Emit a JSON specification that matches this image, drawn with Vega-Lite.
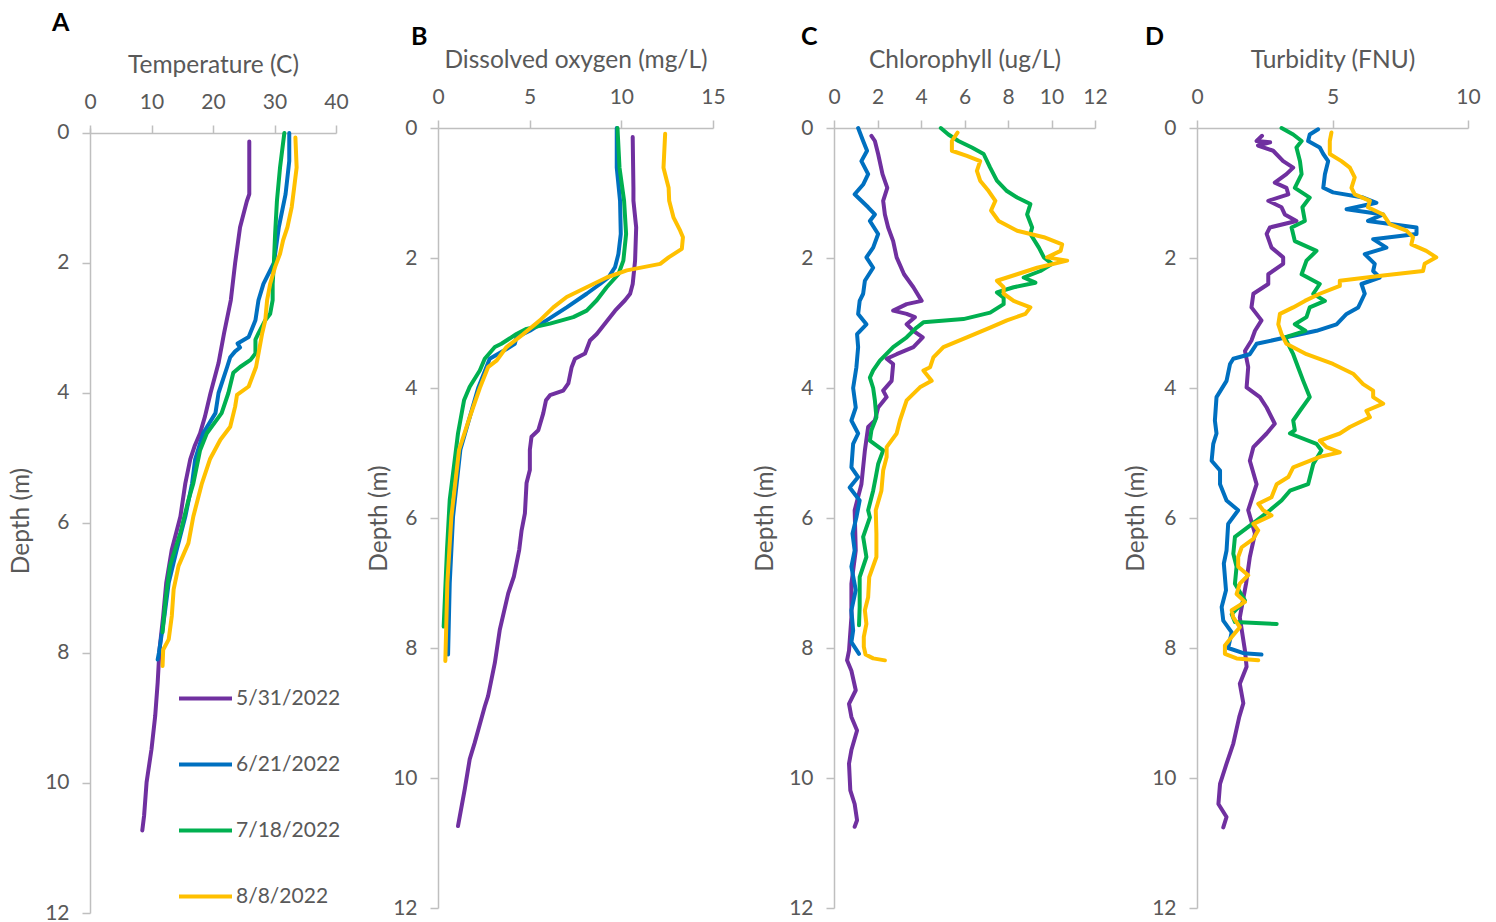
{
"$schema": "https://vega.github.io/schema/vega-lite/v6.json",
"background": "white",
"padding": {"left": 8, "top": 10, "right": 5, "bottom": 0},
"config": {
  "font": "Lato",
  "view": {"stroke": null},
  "axis": {"domainColor": "#bfbfbf", "domainWidth": 1.5, "tickColor": "#bfbfbf", "tickWidth": 1.5, "tickSize": 8, "labelColor": "#595959", "labelFontSize": 21, "titleColor": "#595959", "titleFontSize": 24.5, "titleFontWeight": "normal", "grid": false, "labelFont": "Lato", "titleFont": "Lato", "labelFlush": false, "labelOverlap": false},
  "axisX": {"labelPadding": 13, "titlePadding": 14},
  "axisY": {"labelPadding": 13},
  "line": {"strokeWidth": 4, "strokeCap": "round", "strokeJoin": "round"}
},
"datasets": {"prof": [
{"param":"T","date":"5/31/2022","depth":0.13,"value":25.9},
{"param":"T","date":"5/31/2022","depth":0.94,"value":25.9},
{"param":"T","date":"5/31/2022","depth":1.05,"value":25.5},
{"param":"T","date":"5/31/2022","depth":1.45,"value":24.4},
{"param":"T","date":"5/31/2022","depth":2.0,"value":23.6},
{"param":"T","date":"5/31/2022","depth":2.57,"value":22.9},
{"param":"T","date":"5/31/2022","depth":3.08,"value":21.8},
{"param":"T","date":"5/31/2022","depth":3.54,"value":20.9},
{"param":"T","date":"5/31/2022","depth":4.0,"value":19.6},
{"param":"T","date":"5/31/2022","depth":4.2,"value":19.1},
{"param":"T","date":"5/31/2022","depth":4.36,"value":18.7},
{"param":"T","date":"5/31/2022","depth":4.62,"value":17.9},
{"param":"T","date":"5/31/2022","depth":4.82,"value":17.0},
{"param":"T","date":"5/31/2022","depth":5.02,"value":16.3},
{"param":"T","date":"5/31/2022","depth":5.39,"value":15.5},
{"param":"T","date":"5/31/2022","depth":5.9,"value":14.7},
{"param":"T","date":"5/31/2022","depth":6.41,"value":13.3},
{"param":"T","date":"5/31/2022","depth":6.92,"value":12.4},
{"param":"T","date":"5/31/2022","depth":7.43,"value":11.9},
{"param":"T","date":"5/31/2022","depth":7.95,"value":11.3},
{"param":"T","date":"5/31/2022","depth":8.46,"value":11.0},
{"param":"T","date":"5/31/2022","depth":8.97,"value":10.6},
{"param":"T","date":"5/31/2022","depth":9.48,"value":10.0},
{"param":"T","date":"5/31/2022","depth":9.99,"value":9.2},
{"param":"T","date":"5/31/2022","depth":10.5,"value":8.8},
{"param":"T","date":"5/31/2022","depth":10.73,"value":8.5},
{"param":"T","date":"6/21/2022","depth":0.0,"value":32.4},
{"param":"T","date":"6/21/2022","depth":0.43,"value":32.4},
{"param":"T","date":"6/21/2022","depth":0.94,"value":31.8},
{"param":"T","date":"6/21/2022","depth":1.45,"value":30.7},
{"param":"T","date":"6/21/2022","depth":2.0,"value":29.9},
{"param":"T","date":"6/21/2022","depth":2.32,"value":28.2},
{"param":"T","date":"6/21/2022","depth":2.57,"value":27.4},
{"param":"T","date":"6/21/2022","depth":2.88,"value":26.9},
{"param":"T","date":"6/21/2022","depth":3.14,"value":25.8},
{"param":"T","date":"6/21/2022","depth":3.24,"value":24.0},
{"param":"T","date":"6/21/2022","depth":3.3,"value":24.4},
{"param":"T","date":"6/21/2022","depth":3.36,"value":23.6},
{"param":"T","date":"6/21/2022","depth":3.45,"value":22.8},
{"param":"T","date":"6/21/2022","depth":3.6,"value":22.3},
{"param":"T","date":"6/21/2022","depth":4.0,"value":20.9},
{"param":"T","date":"6/21/2022","depth":4.31,"value":20.4},
{"param":"T","date":"6/21/2022","depth":4.62,"value":18.4},
{"param":"T","date":"6/21/2022","depth":5.02,"value":17.1},
{"param":"T","date":"6/21/2022","depth":5.39,"value":16.6},
{"param":"T","date":"6/21/2022","depth":5.9,"value":15.5},
{"param":"T","date":"6/21/2022","depth":6.41,"value":14.1},
{"param":"T","date":"6/21/2022","depth":6.92,"value":12.8},
{"param":"T","date":"6/21/2022","depth":7.43,"value":12.1},
{"param":"T","date":"6/21/2022","depth":8.0,"value":11.2},
{"param":"T","date":"6/21/2022","depth":8.1,"value":11.0},
{"param":"T","date":"7/18/2022","depth":0.0,"value":31.6},
{"param":"T","date":"7/18/2022","depth":0.53,"value":30.9},
{"param":"T","date":"7/18/2022","depth":1.04,"value":30.4},
{"param":"T","date":"7/18/2022","depth":1.55,"value":30.1},
{"param":"T","date":"7/18/2022","depth":2.0,"value":29.9},
{"param":"T","date":"7/18/2022","depth":2.32,"value":29.7},
{"param":"T","date":"7/18/2022","depth":2.57,"value":29.7},
{"param":"T","date":"7/18/2022","depth":2.78,"value":29.3},
{"param":"T","date":"7/18/2022","depth":2.88,"value":28.5},
{"param":"T","date":"7/18/2022","depth":3.08,"value":27.4},
{"param":"T","date":"7/18/2022","depth":3.18,"value":26.9},
{"param":"T","date":"7/18/2022","depth":3.39,"value":26.9},
{"param":"T","date":"7/18/2022","depth":3.49,"value":26.1},
{"param":"T","date":"7/18/2022","depth":3.6,"value":24.4},
{"param":"T","date":"7/18/2022","depth":3.69,"value":23.3},
{"param":"T","date":"7/18/2022","depth":4.0,"value":22.5},
{"param":"T","date":"7/18/2022","depth":4.31,"value":21.4},
{"param":"T","date":"7/18/2022","depth":4.62,"value":19.0},
{"param":"T","date":"7/18/2022","depth":4.88,"value":17.9},
{"param":"T","date":"7/18/2022","depth":5.39,"value":16.8},
{"param":"T","date":"7/18/2022","depth":5.65,"value":16.0},
{"param":"T","date":"7/18/2022","depth":6.15,"value":14.7},
{"param":"T","date":"7/18/2022","depth":6.66,"value":13.0},
{"param":"T","date":"7/18/2022","depth":7.17,"value":12.3},
{"param":"T","date":"7/18/2022","depth":7.68,"value":11.8},
{"param":"T","date":"8/8/2022","depth":0.07,"value":33.4},
{"param":"T","date":"8/8/2022","depth":0.53,"value":33.6},
{"param":"T","date":"8/8/2022","depth":0.84,"value":33.2},
{"param":"T","date":"8/8/2022","depth":1.14,"value":32.8},
{"param":"T","date":"8/8/2022","depth":1.45,"value":32.1},
{"param":"T","date":"8/8/2022","depth":1.65,"value":31.4},
{"param":"T","date":"8/8/2022","depth":1.86,"value":30.9},
{"param":"T","date":"8/8/2022","depth":2.06,"value":30.1},
{"param":"T","date":"8/8/2022","depth":2.32,"value":29.3},
{"param":"T","date":"8/8/2022","depth":2.57,"value":28.8},
{"param":"T","date":"8/8/2022","depth":2.88,"value":28.5},
{"param":"T","date":"8/8/2022","depth":3.08,"value":28.0},
{"param":"T","date":"8/8/2022","depth":3.6,"value":27.0},
{"param":"T","date":"8/8/2022","depth":3.9,"value":25.8},
{"param":"T","date":"8/8/2022","depth":4.03,"value":23.9},
{"param":"T","date":"8/8/2022","depth":4.21,"value":23.6},
{"param":"T","date":"8/8/2022","depth":4.52,"value":22.8},
{"param":"T","date":"8/8/2022","depth":4.72,"value":21.2},
{"param":"T","date":"8/8/2022","depth":5.02,"value":19.5},
{"param":"T","date":"8/8/2022","depth":5.39,"value":18.2},
{"param":"T","date":"8/8/2022","depth":5.9,"value":16.8},
{"param":"T","date":"8/8/2022","depth":6.31,"value":16.0},
{"param":"T","date":"8/8/2022","depth":6.66,"value":14.4},
{"param":"T","date":"8/8/2022","depth":7.02,"value":13.6},
{"param":"T","date":"8/8/2022","depth":7.43,"value":13.3},
{"param":"T","date":"8/8/2022","depth":7.79,"value":12.8},
{"param":"T","date":"8/8/2022","depth":7.95,"value":11.9},
{"param":"T","date":"8/8/2022","depth":8.2,"value":11.8},
{"param":"DO","date":"5/31/2022","depth":0.14,"value":10.62},
{"param":"DO","date":"5/31/2022","depth":0.92,"value":10.66},
{"param":"DO","date":"5/31/2022","depth":1.12,"value":10.66},
{"param":"DO","date":"5/31/2022","depth":1.53,"value":10.81},
{"param":"DO","date":"5/31/2022","depth":2.04,"value":10.75},
{"param":"DO","date":"5/31/2022","depth":2.4,"value":10.62},
{"param":"DO","date":"5/31/2022","depth":2.55,"value":10.48},
{"param":"DO","date":"5/31/2022","depth":2.65,"value":10.2},
{"param":"DO","date":"5/31/2022","depth":2.81,"value":9.66},
{"param":"DO","date":"5/31/2022","depth":2.96,"value":9.24},
{"param":"DO","date":"5/31/2022","depth":3.17,"value":8.66},
{"param":"DO","date":"5/31/2022","depth":3.27,"value":8.29},
{"param":"DO","date":"5/31/2022","depth":3.47,"value":8.02},
{"param":"DO","date":"5/31/2022","depth":3.55,"value":7.47},
{"param":"DO","date":"5/31/2022","depth":3.68,"value":7.29},
{"param":"DO","date":"5/31/2022","depth":3.93,"value":7.11},
{"param":"DO","date":"5/31/2022","depth":4.04,"value":6.83},
{"param":"DO","date":"5/31/2022","depth":4.11,"value":6.11},
{"param":"DO","date":"5/31/2022","depth":4.19,"value":5.89},
{"param":"DO","date":"5/31/2022","depth":4.39,"value":5.74},
{"param":"DO","date":"5/31/2022","depth":4.65,"value":5.47},
{"param":"DO","date":"5/31/2022","depth":4.75,"value":5.1},
{"param":"DO","date":"5/31/2022","depth":4.95,"value":5.01},
{"param":"DO","date":"5/31/2022","depth":5.26,"value":5.01},
{"param":"DO","date":"5/31/2022","depth":5.46,"value":4.83},
{"param":"DO","date":"5/31/2022","depth":5.93,"value":4.74},
{"param":"DO","date":"5/31/2022","depth":6.19,"value":4.56},
{"param":"DO","date":"5/31/2022","depth":6.49,"value":4.43},
{"param":"DO","date":"5/31/2022","depth":6.9,"value":4.14},
{"param":"DO","date":"5/31/2022","depth":7.16,"value":3.83},
{"param":"DO","date":"5/31/2022","depth":7.72,"value":3.37},
{"param":"DO","date":"5/31/2022","depth":8.23,"value":3.1},
{"param":"DO","date":"5/31/2022","depth":8.74,"value":2.73},
{"param":"DO","date":"5/31/2022","depth":8.9,"value":2.55},
{"param":"DO","date":"5/31/2022","depth":9.46,"value":2.0},
{"param":"DO","date":"5/31/2022","depth":9.71,"value":1.73},
{"param":"DO","date":"5/31/2022","depth":10.17,"value":1.46},
{"param":"DO","date":"5/31/2022","depth":10.74,"value":1.09},
{"param":"DO","date":"6/21/2022","depth":0.0,"value":9.75},
{"param":"DO","date":"6/21/2022","depth":0.61,"value":9.75},
{"param":"DO","date":"6/21/2022","depth":1.12,"value":9.93},
{"param":"DO","date":"6/21/2022","depth":1.63,"value":9.97},
{"param":"DO","date":"6/21/2022","depth":1.94,"value":9.84},
{"param":"DO","date":"6/21/2022","depth":2.14,"value":9.66},
{"param":"DO","date":"6/21/2022","depth":2.3,"value":9.29},
{"param":"DO","date":"6/21/2022","depth":2.4,"value":8.84},
{"param":"DO","date":"6/21/2022","depth":2.55,"value":8.11},
{"param":"DO","date":"6/21/2022","depth":2.76,"value":7.02},
{"param":"DO","date":"6/21/2022","depth":2.96,"value":5.92},
{"param":"DO","date":"6/21/2022","depth":3.12,"value":5.01},
{"param":"DO","date":"6/21/2022","depth":3.22,"value":4.28},
{"param":"DO","date":"6/21/2022","depth":3.32,"value":4.19},
{"param":"DO","date":"6/21/2022","depth":3.4,"value":3.74},
{"param":"DO","date":"6/21/2022","depth":3.55,"value":2.82},
{"param":"DO","date":"6/21/2022","depth":3.68,"value":2.64},
{"param":"DO","date":"6/21/2022","depth":4.0,"value":2.19},
{"param":"DO","date":"6/21/2022","depth":4.45,"value":1.73},
{"param":"DO","date":"6/21/2022","depth":4.95,"value":1.22},
{"param":"DO","date":"6/21/2022","depth":5.98,"value":0.82},
{"param":"DO","date":"6/21/2022","depth":7.0,"value":0.64},
{"param":"DO","date":"6/21/2022","depth":8.1,"value":0.55},
{"param":"DO","date":"7/18/2022","depth":0.0,"value":9.79},
{"param":"DO","date":"7/18/2022","depth":0.61,"value":9.9},
{"param":"DO","date":"7/18/2022","depth":1.12,"value":10.15},
{"param":"DO","date":"7/18/2022","depth":1.63,"value":10.26},
{"param":"DO","date":"7/18/2022","depth":2.04,"value":10.11},
{"param":"DO","date":"7/18/2022","depth":2.25,"value":9.84},
{"param":"DO","date":"7/18/2022","depth":2.45,"value":9.2},
{"param":"DO","date":"7/18/2022","depth":2.65,"value":8.66},
{"param":"DO","date":"7/18/2022","depth":2.81,"value":8.11},
{"param":"DO","date":"7/18/2022","depth":2.91,"value":7.38},
{"param":"DO","date":"7/18/2022","depth":3.01,"value":6.11},
{"param":"DO","date":"7/18/2022","depth":3.09,"value":4.83},
{"param":"DO","date":"7/18/2022","depth":3.17,"value":4.28},
{"param":"DO","date":"7/18/2022","depth":3.32,"value":3.46},
{"param":"DO","date":"7/18/2022","depth":3.37,"value":3.1},
{"param":"DO","date":"7/18/2022","depth":3.55,"value":2.55},
{"param":"DO","date":"7/18/2022","depth":3.73,"value":2.28},
{"param":"DO","date":"7/18/2022","depth":3.98,"value":1.73},
{"param":"DO","date":"7/18/2022","depth":4.19,"value":1.42},
{"param":"DO","date":"7/18/2022","depth":4.7,"value":1.09},
{"param":"DO","date":"7/18/2022","depth":5.11,"value":0.91},
{"param":"DO","date":"7/18/2022","depth":5.72,"value":0.64},
{"param":"DO","date":"7/18/2022","depth":6.49,"value":0.49},
{"param":"DO","date":"7/18/2022","depth":7.67,"value":0.31},
{"param":"DO","date":"8/8/2022","depth":0.09,"value":12.39},
{"param":"DO","date":"8/8/2022","depth":0.61,"value":12.3},
{"param":"DO","date":"8/8/2022","depth":0.81,"value":12.48},
{"param":"DO","date":"8/8/2022","depth":0.92,"value":12.58},
{"param":"DO","date":"8/8/2022","depth":1.12,"value":12.61},
{"param":"DO","date":"8/8/2022","depth":1.38,"value":12.85},
{"param":"DO","date":"8/8/2022","depth":1.58,"value":13.21},
{"param":"DO","date":"8/8/2022","depth":1.68,"value":13.36},
{"param":"DO","date":"8/8/2022","depth":1.86,"value":13.3},
{"param":"DO","date":"8/8/2022","depth":1.99,"value":12.58},
{"param":"DO","date":"8/8/2022","depth":2.09,"value":12.12},
{"param":"DO","date":"8/8/2022","depth":2.14,"value":11.21},
{"param":"DO","date":"8/8/2022","depth":2.19,"value":10.3},
{"param":"DO","date":"8/8/2022","depth":2.3,"value":9.2},
{"param":"DO","date":"8/8/2022","depth":2.45,"value":8.11},
{"param":"DO","date":"8/8/2022","depth":2.6,"value":7.02},
{"param":"DO","date":"8/8/2022","depth":2.76,"value":6.29},
{"param":"DO","date":"8/8/2022","depth":2.96,"value":5.56},
{"param":"DO","date":"8/8/2022","depth":3.17,"value":4.65},
{"param":"DO","date":"8/8/2022","depth":3.37,"value":3.74},
{"param":"DO","date":"8/8/2022","depth":3.58,"value":3.19},
{"param":"DO","date":"8/8/2022","depth":3.68,"value":2.73},
{"param":"DO","date":"8/8/2022","depth":4.0,"value":2.28},
{"param":"DO","date":"8/8/2022","depth":4.45,"value":1.73},
{"param":"DO","date":"8/8/2022","depth":4.95,"value":1.15},
{"param":"DO","date":"8/8/2022","depth":5.98,"value":0.73},
{"param":"DO","date":"8/8/2022","depth":7.0,"value":0.51},
{"param":"DO","date":"8/8/2022","depth":8.2,"value":0.4},
{"param":"Chl","date":"5/31/2022","depth":0.12,"value":1.72},
{"param":"Chl","date":"5/31/2022","depth":0.2,"value":1.88},
{"param":"Chl","date":"5/31/2022","depth":0.4,"value":2.03},
{"param":"Chl","date":"5/31/2022","depth":0.71,"value":2.23},
{"param":"Chl","date":"5/31/2022","depth":0.92,"value":2.45},
{"param":"Chl","date":"5/31/2022","depth":1.12,"value":2.26},
{"param":"Chl","date":"5/31/2022","depth":1.33,"value":2.34},
{"param":"Chl","date":"5/31/2022","depth":1.53,"value":2.49},
{"param":"Chl","date":"5/31/2022","depth":1.74,"value":2.72},
{"param":"Chl","date":"5/31/2022","depth":1.99,"value":2.88},
{"param":"Chl","date":"5/31/2022","depth":2.25,"value":3.22},
{"param":"Chl","date":"5/31/2022","depth":2.45,"value":3.65},
{"param":"Chl","date":"5/31/2022","depth":2.66,"value":4.03},
{"param":"Chl","date":"5/31/2022","depth":2.71,"value":3.34},
{"param":"Chl","date":"5/31/2022","depth":2.81,"value":2.72},
{"param":"Chl","date":"5/31/2022","depth":2.86,"value":3.34},
{"param":"Chl","date":"5/31/2022","depth":2.91,"value":3.72},
{"param":"Chl","date":"5/31/2022","depth":3.02,"value":3.34},
{"param":"Chl","date":"5/31/2022","depth":3.12,"value":3.65},
{"param":"Chl","date":"5/31/2022","depth":3.22,"value":4.08},
{"param":"Chl","date":"5/31/2022","depth":3.37,"value":3.65},
{"param":"Chl","date":"5/31/2022","depth":3.48,"value":2.88},
{"param":"Chl","date":"5/31/2022","depth":3.55,"value":2.42},
{"param":"Chl","date":"5/31/2022","depth":3.63,"value":2.72},
{"param":"Chl","date":"5/31/2022","depth":3.89,"value":2.65},
{"param":"Chl","date":"5/31/2022","depth":4.04,"value":2.26},
{"param":"Chl","date":"5/31/2022","depth":4.14,"value":2.42},
{"param":"Chl","date":"5/31/2022","depth":4.3,"value":2.03},
{"param":"Chl","date":"5/31/2022","depth":4.5,"value":1.88},
{"param":"Chl","date":"5/31/2022","depth":4.6,"value":1.57},
{"param":"Chl","date":"5/31/2022","depth":4.96,"value":1.42},
{"param":"Chl","date":"5/31/2022","depth":5.48,"value":1.26},
{"param":"Chl","date":"5/31/2022","depth":5.88,"value":0.95},
{"param":"Chl","date":"5/31/2022","depth":6.5,"value":1.0},
{"param":"Chl","date":"5/31/2022","depth":7.01,"value":0.8},
{"param":"Chl","date":"5/31/2022","depth":7.53,"value":0.8},
{"param":"Chl","date":"5/31/2022","depth":8.04,"value":0.69},
{"param":"Chl","date":"5/31/2022","depth":8.19,"value":0.6},
{"param":"Chl","date":"5/31/2022","depth":8.35,"value":0.8},
{"param":"Chl","date":"5/31/2022","depth":8.65,"value":1.0},
{"param":"Chl","date":"5/31/2022","depth":8.86,"value":0.69},
{"param":"Chl","date":"5/31/2022","depth":9.06,"value":0.8},
{"param":"Chl","date":"5/31/2022","depth":9.27,"value":1.06},
{"param":"Chl","date":"5/31/2022","depth":9.57,"value":0.8},
{"param":"Chl","date":"5/31/2022","depth":9.78,"value":0.69},
{"param":"Chl","date":"5/31/2022","depth":10.19,"value":0.75},
{"param":"Chl","date":"5/31/2022","depth":10.4,"value":0.95},
{"param":"Chl","date":"5/31/2022","depth":10.65,"value":1.06},
{"param":"Chl","date":"5/31/2022","depth":10.75,"value":0.95},
{"param":"Chl","date":"6/21/2022","depth":0.0,"value":1.11},
{"param":"Chl","date":"6/21/2022","depth":0.2,"value":1.34},
{"param":"Chl","date":"6/21/2022","depth":0.35,"value":1.52},
{"param":"Chl","date":"6/21/2022","depth":0.51,"value":1.26},
{"param":"Chl","date":"6/21/2022","depth":0.71,"value":1.57},
{"param":"Chl","date":"6/21/2022","depth":0.87,"value":1.34},
{"param":"Chl","date":"6/21/2022","depth":1.02,"value":0.95},
{"param":"Chl","date":"6/21/2022","depth":1.22,"value":1.57},
{"param":"Chl","date":"6/21/2022","depth":1.33,"value":1.88},
{"param":"Chl","date":"6/21/2022","depth":1.43,"value":1.65},
{"param":"Chl","date":"6/21/2022","depth":1.63,"value":2.03},
{"param":"Chl","date":"6/21/2022","depth":1.84,"value":1.8},
{"param":"Chl","date":"6/21/2022","depth":1.99,"value":1.49},
{"param":"Chl","date":"6/21/2022","depth":2.15,"value":1.8},
{"param":"Chl","date":"6/21/2022","depth":2.35,"value":1.42},
{"param":"Chl","date":"6/21/2022","depth":2.55,"value":1.34},
{"param":"Chl","date":"6/21/2022","depth":2.66,"value":1.18},
{"param":"Chl","date":"6/21/2022","depth":2.86,"value":1.11},
{"param":"Chl","date":"6/21/2022","depth":3.02,"value":1.49},
{"param":"Chl","date":"6/21/2022","depth":3.17,"value":1.06},
{"param":"Chl","date":"6/21/2022","depth":3.37,"value":1.11},
{"param":"Chl","date":"6/21/2022","depth":3.68,"value":1.03},
{"param":"Chl","date":"6/21/2022","depth":4.0,"value":0.88},
{"param":"Chl","date":"6/21/2022","depth":4.3,"value":1.0},
{"param":"Chl","date":"6/21/2022","depth":4.5,"value":0.8},
{"param":"Chl","date":"6/21/2022","depth":4.7,"value":1.11},
{"param":"Chl","date":"6/21/2022","depth":4.86,"value":0.88},
{"param":"Chl","date":"6/21/2022","depth":5.22,"value":0.8},
{"param":"Chl","date":"6/21/2022","depth":5.37,"value":1.11},
{"param":"Chl","date":"6/21/2022","depth":5.53,"value":0.72},
{"param":"Chl","date":"6/21/2022","depth":5.73,"value":1.18},
{"param":"Chl","date":"6/21/2022","depth":5.99,"value":1.03},
{"param":"Chl","date":"6/21/2022","depth":6.24,"value":0.85},
{"param":"Chl","date":"6/21/2022","depth":6.5,"value":0.95},
{"param":"Chl","date":"6/21/2022","depth":6.75,"value":0.8},
{"param":"Chl","date":"6/21/2022","depth":7.11,"value":1.0},
{"param":"Chl","date":"6/21/2022","depth":7.42,"value":0.8},
{"param":"Chl","date":"6/21/2022","depth":7.73,"value":0.88},
{"param":"Chl","date":"6/21/2022","depth":7.91,"value":0.8},
{"param":"Chl","date":"6/21/2022","depth":8.09,"value":1.15},
{"param":"Chl","date":"7/18/2022","depth":0.0,"value":4.91},
{"param":"Chl","date":"7/18/2022","depth":0.1,"value":5.26},
{"param":"Chl","date":"7/18/2022","depth":0.2,"value":5.72},
{"param":"Chl","date":"7/18/2022","depth":0.3,"value":6.34},
{"param":"Chl","date":"7/18/2022","depth":0.4,"value":6.88},
{"param":"Chl","date":"7/18/2022","depth":0.61,"value":7.18},
{"param":"Chl","date":"7/18/2022","depth":0.81,"value":7.49},
{"param":"Chl","date":"7/18/2022","depth":0.97,"value":7.95},
{"param":"Chl","date":"7/18/2022","depth":1.07,"value":8.42},
{"param":"Chl","date":"7/18/2022","depth":1.17,"value":9.03},
{"param":"Chl","date":"7/18/2022","depth":1.33,"value":8.88},
{"param":"Chl","date":"7/18/2022","depth":1.53,"value":9.11},
{"param":"Chl","date":"7/18/2022","depth":1.63,"value":9.03},
{"param":"Chl","date":"7/18/2022","depth":1.84,"value":9.42},
{"param":"Chl","date":"7/18/2022","depth":1.99,"value":9.65},
{"param":"Chl","date":"7/18/2022","depth":2.09,"value":10.03},
{"param":"Chl","date":"7/18/2022","depth":2.2,"value":9.49},
{"param":"Chl","date":"7/18/2022","depth":2.3,"value":8.72},
{"param":"Chl","date":"7/18/2022","depth":2.38,"value":9.26},
{"param":"Chl","date":"7/18/2022","depth":2.45,"value":8.26},
{"param":"Chl","date":"7/18/2022","depth":2.53,"value":7.49},
{"param":"Chl","date":"7/18/2022","depth":2.61,"value":7.8},
{"param":"Chl","date":"7/18/2022","depth":2.71,"value":7.8},
{"param":"Chl","date":"7/18/2022","depth":2.84,"value":7.18},
{"param":"Chl","date":"7/18/2022","depth":2.94,"value":5.95},
{"param":"Chl","date":"7/18/2022","depth":2.99,"value":4.11},
{"param":"Chl","date":"7/18/2022","depth":3.07,"value":3.8},
{"param":"Chl","date":"7/18/2022","depth":3.22,"value":3.34},
{"param":"Chl","date":"7/18/2022","depth":3.37,"value":2.72},
{"param":"Chl","date":"7/18/2022","depth":3.58,"value":2.11},
{"param":"Chl","date":"7/18/2022","depth":3.73,"value":1.8},
{"param":"Chl","date":"7/18/2022","depth":3.84,"value":1.65},
{"param":"Chl","date":"7/18/2022","depth":4.0,"value":1.8},
{"param":"Chl","date":"7/18/2022","depth":4.19,"value":1.88},
{"param":"Chl","date":"7/18/2022","depth":4.45,"value":1.95},
{"param":"Chl","date":"7/18/2022","depth":4.65,"value":1.72},
{"param":"Chl","date":"7/18/2022","depth":4.81,"value":1.65},
{"param":"Chl","date":"7/18/2022","depth":4.96,"value":2.26},
{"param":"Chl","date":"7/18/2022","depth":5.17,"value":2.03},
{"param":"Chl","date":"7/18/2022","depth":5.37,"value":1.92},
{"param":"Chl","date":"7/18/2022","depth":5.58,"value":1.8},
{"param":"Chl","date":"7/18/2022","depth":5.88,"value":1.57},
{"param":"Chl","date":"7/18/2022","depth":5.99,"value":1.65},
{"param":"Chl","date":"7/18/2022","depth":6.29,"value":1.34},
{"param":"Chl","date":"7/18/2022","depth":6.6,"value":1.49},
{"param":"Chl","date":"7/18/2022","depth":6.91,"value":1.18},
{"param":"Chl","date":"7/18/2022","depth":7.17,"value":1.18},
{"param":"Chl","date":"7/18/2022","depth":7.37,"value":1.18},
{"param":"Chl","date":"7/18/2022","depth":7.65,"value":1.15},
{"param":"Chl","date":"8/8/2022","depth":0.07,"value":5.68},
{"param":"Chl","date":"8/8/2022","depth":0.2,"value":5.42},
{"param":"Chl","date":"8/8/2022","depth":0.35,"value":5.42},
{"param":"Chl","date":"8/8/2022","depth":0.43,"value":6.11},
{"param":"Chl","date":"8/8/2022","depth":0.51,"value":6.72},
{"param":"Chl","date":"8/8/2022","depth":0.66,"value":6.57},
{"param":"Chl","date":"8/8/2022","depth":0.81,"value":6.72},
{"param":"Chl","date":"8/8/2022","depth":0.97,"value":7.11},
{"param":"Chl","date":"8/8/2022","depth":1.12,"value":7.42},
{"param":"Chl","date":"8/8/2022","depth":1.27,"value":7.22},
{"param":"Chl","date":"8/8/2022","depth":1.43,"value":7.57},
{"param":"Chl","date":"8/8/2022","depth":1.58,"value":8.42},
{"param":"Chl","date":"8/8/2022","depth":1.68,"value":9.65},
{"param":"Chl","date":"8/8/2022","depth":1.79,"value":10.49},
{"param":"Chl","date":"8/8/2022","depth":1.89,"value":10.42},
{"param":"Chl","date":"8/8/2022","depth":1.99,"value":9.8},
{"param":"Chl","date":"8/8/2022","depth":2.04,"value":10.72},
{"param":"Chl","date":"8/8/2022","depth":2.15,"value":9.34},
{"param":"Chl","date":"8/8/2022","depth":2.25,"value":8.42},
{"param":"Chl","date":"8/8/2022","depth":2.35,"value":7.49},
{"param":"Chl","date":"8/8/2022","depth":2.45,"value":7.8},
{"param":"Chl","date":"8/8/2022","depth":2.55,"value":7.8},
{"param":"Chl","date":"8/8/2022","depth":2.66,"value":8.26},
{"param":"Chl","date":"8/8/2022","depth":2.76,"value":9.03},
{"param":"Chl","date":"8/8/2022","depth":2.86,"value":8.8},
{"param":"Chl","date":"8/8/2022","depth":2.96,"value":7.95},
{"param":"Chl","date":"8/8/2022","depth":3.07,"value":7.18},
{"param":"Chl","date":"8/8/2022","depth":3.22,"value":6.11},
{"param":"Chl","date":"8/8/2022","depth":3.37,"value":5.03},
{"param":"Chl","date":"8/8/2022","depth":3.53,"value":4.57},
{"param":"Chl","date":"8/8/2022","depth":3.68,"value":4.42},
{"param":"Chl","date":"8/8/2022","depth":3.73,"value":4.11},
{"param":"Chl","date":"8/8/2022","depth":3.89,"value":4.49},
{"param":"Chl","date":"8/8/2022","depth":3.99,"value":3.95},
{"param":"Chl","date":"8/8/2022","depth":4.19,"value":3.34},
{"param":"Chl","date":"8/8/2022","depth":4.35,"value":3.18},
{"param":"Chl","date":"8/8/2022","depth":4.5,"value":3.03},
{"param":"Chl","date":"8/8/2022","depth":4.7,"value":2.88},
{"param":"Chl","date":"8/8/2022","depth":4.91,"value":2.42},
{"param":"Chl","date":"8/8/2022","depth":5.06,"value":2.42},
{"param":"Chl","date":"8/8/2022","depth":5.27,"value":2.26},
{"param":"Chl","date":"8/8/2022","depth":5.58,"value":2.18},
{"param":"Chl","date":"8/8/2022","depth":5.88,"value":1.92},
{"param":"Chl","date":"8/8/2022","depth":6.24,"value":1.95},
{"param":"Chl","date":"8/8/2022","depth":6.6,"value":1.95},
{"param":"Chl","date":"8/8/2022","depth":6.91,"value":1.62},
{"param":"Chl","date":"8/8/2022","depth":7.22,"value":1.57},
{"param":"Chl","date":"8/8/2022","depth":7.42,"value":1.42},
{"param":"Chl","date":"8/8/2022","depth":7.63,"value":1.49},
{"param":"Chl","date":"8/8/2022","depth":7.83,"value":1.37},
{"param":"Chl","date":"8/8/2022","depth":7.98,"value":1.37},
{"param":"Chl","date":"8/8/2022","depth":8.1,"value":1.45},
{"param":"Chl","date":"8/8/2022","depth":8.16,"value":1.8},
{"param":"Chl","date":"8/8/2022","depth":8.19,"value":2.34},
{"param":"Turb","date":"5/31/2022","depth":0.12,"value":2.4},
{"param":"Turb","date":"5/31/2022","depth":0.2,"value":2.2},
{"param":"Turb","date":"5/31/2022","depth":0.22,"value":2.7},
{"param":"Turb","date":"5/31/2022","depth":0.27,"value":2.25},
{"param":"Turb","date":"5/31/2022","depth":0.35,"value":2.81},
{"param":"Turb","date":"5/31/2022","depth":0.51,"value":3.18},
{"param":"Turb","date":"5/31/2022","depth":0.61,"value":3.55},
{"param":"Turb","date":"5/31/2022","depth":0.71,"value":3.3},
{"param":"Turb","date":"5/31/2022","depth":0.84,"value":2.87},
{"param":"Turb","date":"5/31/2022","depth":0.92,"value":3.3},
{"param":"Turb","date":"5/31/2022","depth":1.02,"value":3.37},
{"param":"Turb","date":"5/31/2022","depth":1.12,"value":2.63},
{"param":"Turb","date":"5/31/2022","depth":1.22,"value":3.12},
{"param":"Turb","date":"5/31/2022","depth":1.33,"value":3.24},
{"param":"Turb","date":"5/31/2022","depth":1.43,"value":3.67},
{"param":"Turb","date":"5/31/2022","depth":1.53,"value":2.69},
{"param":"Turb","date":"5/31/2022","depth":1.63,"value":2.57},
{"param":"Turb","date":"5/31/2022","depth":1.84,"value":2.75},
{"param":"Turb","date":"5/31/2022","depth":1.99,"value":3.18},
{"param":"Turb","date":"5/31/2022","depth":2.09,"value":3.18},
{"param":"Turb","date":"5/31/2022","depth":2.25,"value":2.63},
{"param":"Turb","date":"5/31/2022","depth":2.4,"value":2.63},
{"param":"Turb","date":"5/31/2022","depth":2.55,"value":2.08},
{"param":"Turb","date":"5/31/2022","depth":2.76,"value":2.01},
{"param":"Turb","date":"5/31/2022","depth":2.96,"value":2.38},
{"param":"Turb","date":"5/31/2022","depth":3.12,"value":2.14},
{"param":"Turb","date":"5/31/2022","depth":3.27,"value":2.01},
{"param":"Turb","date":"5/31/2022","depth":3.43,"value":1.77},
{"param":"Turb","date":"5/31/2022","depth":3.68,"value":1.89},
{"param":"Turb","date":"5/31/2022","depth":3.99,"value":1.83},
{"param":"Turb","date":"5/31/2022","depth":4.14,"value":2.32},
{"param":"Turb","date":"5/31/2022","depth":4.3,"value":2.57},
{"param":"Turb","date":"5/31/2022","depth":4.55,"value":2.87},
{"param":"Turb","date":"5/31/2022","depth":4.7,"value":2.57},
{"param":"Turb","date":"5/31/2022","depth":4.91,"value":2.08},
{"param":"Turb","date":"5/31/2022","depth":5.12,"value":1.95},
{"param":"Turb","date":"5/31/2022","depth":5.48,"value":2.2},
{"param":"Turb","date":"5/31/2022","depth":5.88,"value":1.89},
{"param":"Turb","date":"5/31/2022","depth":6.24,"value":2.14},
{"param":"Turb","date":"5/31/2022","depth":6.6,"value":1.95},
{"param":"Turb","date":"5/31/2022","depth":7.01,"value":1.81},
{"param":"Turb","date":"5/31/2022","depth":7.53,"value":1.58},
{"param":"Turb","date":"5/31/2022","depth":8.04,"value":1.77},
{"param":"Turb","date":"5/31/2022","depth":8.29,"value":1.83},
{"param":"Turb","date":"5/31/2022","depth":8.55,"value":1.58},
{"param":"Turb","date":"5/31/2022","depth":8.85,"value":1.71},
{"param":"Turb","date":"5/31/2022","depth":9.06,"value":1.56},
{"param":"Turb","date":"5/31/2022","depth":9.47,"value":1.34},
{"param":"Turb","date":"5/31/2022","depth":9.78,"value":1.09},
{"param":"Turb","date":"5/31/2022","depth":10.09,"value":0.85},
{"param":"Turb","date":"5/31/2022","depth":10.4,"value":0.79},
{"param":"Turb","date":"5/31/2022","depth":10.6,"value":1.09},
{"param":"Turb","date":"5/31/2022","depth":10.76,"value":0.97},
{"param":"Turb","date":"6/21/2022","depth":0.02,"value":4.47},
{"param":"Turb","date":"6/21/2022","depth":0.1,"value":4.16},
{"param":"Turb","date":"6/21/2022","depth":0.2,"value":4.1},
{"param":"Turb","date":"6/21/2022","depth":0.3,"value":4.53},
{"param":"Turb","date":"6/21/2022","depth":0.4,"value":4.66},
{"param":"Turb","date":"6/21/2022","depth":0.51,"value":4.84},
{"param":"Turb","date":"6/21/2022","depth":0.71,"value":4.72},
{"param":"Turb","date":"6/21/2022","depth":0.92,"value":4.66},
{"param":"Turb","date":"6/21/2022","depth":0.99,"value":5.02},
{"param":"Turb","date":"6/21/2022","depth":1.07,"value":6.13},
{"param":"Turb","date":"6/21/2022","depth":1.15,"value":6.62},
{"param":"Turb","date":"6/21/2022","depth":1.25,"value":5.52},
{"param":"Turb","date":"6/21/2022","depth":1.33,"value":6.87},
{"param":"Turb","date":"6/21/2022","depth":1.43,"value":6.31},
{"param":"Turb","date":"6/21/2022","depth":1.53,"value":8.1},
{"param":"Turb","date":"6/21/2022","depth":1.63,"value":8.1},
{"param":"Turb","date":"6/21/2022","depth":1.71,"value":6.5},
{"param":"Turb","date":"6/21/2022","depth":1.84,"value":6.99},
{"param":"Turb","date":"6/21/2022","depth":1.94,"value":6.19},
{"param":"Turb","date":"6/21/2022","depth":2.09,"value":6.56},
{"param":"Turb","date":"6/21/2022","depth":2.2,"value":6.5},
{"param":"Turb","date":"6/21/2022","depth":2.3,"value":6.74},
{"param":"Turb","date":"6/21/2022","depth":2.4,"value":6.07},
{"param":"Turb","date":"6/21/2022","depth":2.55,"value":6.19},
{"param":"Turb","date":"6/21/2022","depth":2.76,"value":5.95},
{"param":"Turb","date":"6/21/2022","depth":2.86,"value":5.52},
{"param":"Turb","date":"6/21/2022","depth":3.02,"value":5.15},
{"param":"Turb","date":"6/21/2022","depth":3.12,"value":4.41},
{"param":"Turb","date":"6/21/2022","depth":3.22,"value":3.3},
{"param":"Turb","date":"6/21/2022","depth":3.32,"value":2.2},
{"param":"Turb","date":"6/21/2022","depth":3.48,"value":1.95},
{"param":"Turb","date":"6/21/2022","depth":3.55,"value":1.34},
{"param":"Turb","date":"6/21/2022","depth":3.63,"value":1.22},
{"param":"Turb","date":"6/21/2022","depth":3.89,"value":1.09},
{"param":"Turb","date":"6/21/2022","depth":4.14,"value":0.72},
{"param":"Turb","date":"6/21/2022","depth":4.5,"value":0.66},
{"param":"Turb","date":"6/21/2022","depth":4.7,"value":0.72},
{"param":"Turb","date":"6/21/2022","depth":4.86,"value":0.6},
{"param":"Turb","date":"6/21/2022","depth":5.12,"value":0.54},
{"param":"Turb","date":"6/21/2022","depth":5.27,"value":0.85},
{"param":"Turb","date":"6/21/2022","depth":5.48,"value":0.85},
{"param":"Turb","date":"6/21/2022","depth":5.73,"value":1.09},
{"param":"Turb","date":"6/21/2022","depth":5.88,"value":1.52},
{"param":"Turb","date":"6/21/2022","depth":6.09,"value":1.15},
{"param":"Turb","date":"6/21/2022","depth":6.5,"value":1.09},
{"param":"Turb","date":"6/21/2022","depth":6.7,"value":0.99},
{"param":"Turb","date":"6/21/2022","depth":7.11,"value":1.07},
{"param":"Turb","date":"6/21/2022","depth":7.37,"value":0.91},
{"param":"Turb","date":"6/21/2022","depth":7.58,"value":0.97},
{"param":"Turb","date":"6/21/2022","depth":7.76,"value":1.28},
{"param":"Turb","date":"6/21/2022","depth":8.0,"value":1.15},
{"param":"Turb","date":"6/21/2022","depth":8.08,"value":1.71},
{"param":"Turb","date":"6/21/2022","depth":8.1,"value":2.38},
{"param":"Turb","date":"7/18/2022","depth":0.0,"value":3.12},
{"param":"Turb","date":"7/18/2022","depth":0.1,"value":3.55},
{"param":"Turb","date":"7/18/2022","depth":0.2,"value":3.86},
{"param":"Turb","date":"7/18/2022","depth":0.3,"value":3.67},
{"param":"Turb","date":"7/18/2022","depth":0.51,"value":3.8},
{"param":"Turb","date":"7/18/2022","depth":0.71,"value":3.86},
{"param":"Turb","date":"7/18/2022","depth":0.92,"value":3.61},
{"param":"Turb","date":"7/18/2022","depth":1.07,"value":4.16},
{"param":"Turb","date":"7/18/2022","depth":1.22,"value":3.89},
{"param":"Turb","date":"7/18/2022","depth":1.43,"value":3.98},
{"param":"Turb","date":"7/18/2022","depth":1.53,"value":3.49},
{"param":"Turb","date":"7/18/2022","depth":1.74,"value":3.61},
{"param":"Turb","date":"7/18/2022","depth":1.89,"value":4.41},
{"param":"Turb","date":"7/18/2022","depth":2.04,"value":4.04},
{"param":"Turb","date":"7/18/2022","depth":2.25,"value":3.86},
{"param":"Turb","date":"7/18/2022","depth":2.4,"value":4.53},
{"param":"Turb","date":"7/18/2022","depth":2.55,"value":4.29},
{"param":"Turb","date":"7/18/2022","depth":2.66,"value":4.72},
{"param":"Turb","date":"7/18/2022","depth":2.76,"value":4.16},
{"param":"Turb","date":"7/18/2022","depth":2.91,"value":4.04},
{"param":"Turb","date":"7/18/2022","depth":3.02,"value":3.61},
{"param":"Turb","date":"7/18/2022","depth":3.12,"value":4.0},
{"param":"Turb","date":"7/18/2022","depth":3.22,"value":3.24},
{"param":"Turb","date":"7/18/2022","depth":3.48,"value":3.55},
{"param":"Turb","date":"7/18/2022","depth":3.68,"value":3.73},
{"param":"Turb","date":"7/18/2022","depth":3.89,"value":3.92},
{"param":"Turb","date":"7/18/2022","depth":4.14,"value":4.16},
{"param":"Turb","date":"7/18/2022","depth":4.35,"value":3.8},
{"param":"Turb","date":"7/18/2022","depth":4.5,"value":3.55},
{"param":"Turb","date":"7/18/2022","depth":4.65,"value":3.61},
{"param":"Turb","date":"7/18/2022","depth":4.7,"value":3.43},
{"param":"Turb","date":"7/18/2022","depth":4.86,"value":4.41},
{"param":"Turb","date":"7/18/2022","depth":4.96,"value":4.59},
{"param":"Turb","date":"7/18/2022","depth":5.17,"value":4.29},
{"param":"Turb","date":"7/18/2022","depth":5.48,"value":4.1},
{"param":"Turb","date":"7/18/2022","depth":5.58,"value":3.43},
{"param":"Turb","date":"7/18/2022","depth":5.73,"value":3.12},
{"param":"Turb","date":"7/18/2022","depth":5.88,"value":2.69},
{"param":"Turb","date":"7/18/2022","depth":6.04,"value":2.2},
{"param":"Turb","date":"7/18/2022","depth":6.29,"value":1.4},
{"param":"Turb","date":"7/18/2022","depth":6.55,"value":1.34},
{"param":"Turb","date":"7/18/2022","depth":6.75,"value":1.46},
{"param":"Turb","date":"7/18/2022","depth":7.01,"value":1.4},
{"param":"Turb","date":"7/18/2022","depth":7.27,"value":1.77},
{"param":"Turb","date":"7/18/2022","depth":7.48,"value":1.28},
{"param":"Turb","date":"7/18/2022","depth":7.6,"value":1.4},
{"param":"Turb","date":"7/18/2022","depth":7.63,"value":2.94},
{"param":"Turb","date":"8/8/2022","depth":0.07,"value":4.96},
{"param":"Turb","date":"8/8/2022","depth":0.2,"value":4.9},
{"param":"Turb","date":"8/8/2022","depth":0.4,"value":4.9},
{"param":"Turb","date":"8/8/2022","depth":0.51,"value":5.33},
{"param":"Turb","date":"8/8/2022","depth":0.61,"value":5.64},
{"param":"Turb","date":"8/8/2022","depth":0.76,"value":5.82},
{"param":"Turb","date":"8/8/2022","depth":0.92,"value":5.7},
{"param":"Turb","date":"8/8/2022","depth":1.02,"value":5.82},
{"param":"Turb","date":"8/8/2022","depth":1.12,"value":6.38},
{"param":"Turb","date":"8/8/2022","depth":1.22,"value":6.31},
{"param":"Turb","date":"8/8/2022","depth":1.33,"value":6.87},
{"param":"Turb","date":"8/8/2022","depth":1.48,"value":7.11},
{"param":"Turb","date":"8/8/2022","depth":1.58,"value":7.73},
{"param":"Turb","date":"8/8/2022","depth":1.68,"value":7.97},
{"param":"Turb","date":"8/8/2022","depth":1.79,"value":7.91},
{"param":"Turb","date":"8/8/2022","depth":1.89,"value":8.46},
{"param":"Turb","date":"8/8/2022","depth":1.99,"value":8.83},
{"param":"Turb","date":"8/8/2022","depth":2.09,"value":8.4},
{"param":"Turb","date":"8/8/2022","depth":2.2,"value":8.34},
{"param":"Turb","date":"8/8/2022","depth":2.27,"value":6.87},
{"param":"Turb","date":"8/8/2022","depth":2.35,"value":5.27},
{"param":"Turb","date":"8/8/2022","depth":2.43,"value":5.27},
{"param":"Turb","date":"8/8/2022","depth":2.55,"value":4.53},
{"param":"Turb","date":"8/8/2022","depth":2.66,"value":3.98},
{"param":"Turb","date":"8/8/2022","depth":2.76,"value":3.55},
{"param":"Turb","date":"8/8/2022","depth":2.86,"value":3.06},
{"param":"Turb","date":"8/8/2022","depth":3.02,"value":3.0},
{"param":"Turb","date":"8/8/2022","depth":3.17,"value":3.12},
{"param":"Turb","date":"8/8/2022","depth":3.32,"value":3.3},
{"param":"Turb","date":"8/8/2022","depth":3.48,"value":4.04},
{"param":"Turb","date":"8/8/2022","depth":3.63,"value":5.02},
{"param":"Turb","date":"8/8/2022","depth":3.78,"value":5.76},
{"param":"Turb","date":"8/8/2022","depth":3.94,"value":6.13},
{"param":"Turb","date":"8/8/2022","depth":4.04,"value":6.5},
{"param":"Turb","date":"8/8/2022","depth":4.14,"value":6.5},
{"param":"Turb","date":"8/8/2022","depth":4.24,"value":6.87},
{"param":"Turb","date":"8/8/2022","depth":4.35,"value":6.25},
{"param":"Turb","date":"8/8/2022","depth":4.45,"value":6.38},
{"param":"Turb","date":"8/8/2022","depth":4.6,"value":5.64},
{"param":"Turb","date":"8/8/2022","depth":4.7,"value":5.27},
{"param":"Turb","date":"8/8/2022","depth":4.81,"value":4.53},
{"param":"Turb","date":"8/8/2022","depth":4.91,"value":4.78},
{"param":"Turb","date":"8/8/2022","depth":4.99,"value":5.27},
{"param":"Turb","date":"8/8/2022","depth":5.06,"value":4.53},
{"param":"Turb","date":"8/8/2022","depth":5.22,"value":3.55},
{"param":"Turb","date":"8/8/2022","depth":5.37,"value":3.37},
{"param":"Turb","date":"8/8/2022","depth":5.48,"value":2.94},
{"param":"Turb","date":"8/8/2022","depth":5.68,"value":2.75},
{"param":"Turb","date":"8/8/2022","depth":5.78,"value":2.26},
{"param":"Turb","date":"8/8/2022","depth":5.88,"value":2.44},
{"param":"Turb","date":"8/8/2022","depth":5.96,"value":2.75},
{"param":"Turb","date":"8/8/2022","depth":6.09,"value":2.08},
{"param":"Turb","date":"8/8/2022","depth":6.19,"value":2.26},
{"param":"Turb","date":"8/8/2022","depth":6.32,"value":2.08},
{"param":"Turb","date":"8/8/2022","depth":6.45,"value":1.65},
{"param":"Turb","date":"8/8/2022","depth":6.6,"value":1.52},
{"param":"Turb","date":"8/8/2022","depth":6.75,"value":1.52},
{"param":"Turb","date":"8/8/2022","depth":6.88,"value":1.89},
{"param":"Turb","date":"8/8/2022","depth":7.01,"value":1.58},
{"param":"Turb","date":"8/8/2022","depth":7.17,"value":1.46},
{"param":"Turb","date":"8/8/2022","depth":7.29,"value":1.77},
{"param":"Turb","date":"8/8/2022","depth":7.42,"value":1.28},
{"param":"Turb","date":"8/8/2022","depth":7.53,"value":1.34},
{"param":"Turb","date":"8/8/2022","depth":7.68,"value":1.58},
{"param":"Turb","date":"8/8/2022","depth":7.83,"value":1.28},
{"param":"Turb","date":"8/8/2022","depth":7.96,"value":1.03},
{"param":"Turb","date":"8/8/2022","depth":8.09,"value":1.03},
{"param":"Turb","date":"8/8/2022","depth":8.16,"value":1.46},
{"param":"Turb","date":"8/8/2022","depth":8.19,"value":2.26}
]},
"spacing": 26,
"resolve": {"scale": {"color": "independent"}, "legend": {"color": "independent"}},
"hconcat": [
{"spacing": 17,
 "resolve": {"scale": {"color": "independent"}, "legend": {"color": "independent"}},
 "hconcat": [
 {"width": 246, "height": 785,
  "data": {"name": "prof"},
  "transform": [{"filter": "datum.param === 'T'"}],
  "title": {"text": "A", "anchor": "start", "frame": "group", "dx": -38, "fontSize": 25, "fontWeight": "bold", "color": "black", "font": "Lato", "offset": 16.5},
  "mark": {"type": "line"},
  "encoding": {
    "x": {"field": "value", "type": "quantitative", "scale": {"domain": [0, 40], "nice": false}, "axis": {"orient": "top", "offset": -5, "title": "Temperature (C)", "values": [0, 10, 20, 30, 40]}},
    "y": {"field": "depth", "type": "quantitative", "scale": {"domain": [-0.0769, 12], "reverse": true, "nice": false, "zero": false}, "axis": {"title": "Depth (m)", "values": [0, 2, 4, 6, 8, 10, 12], "titlePadding": 10.7}},
    "color": {"field": "date", "type": "nominal", "scale": {"domain": ["5/31/2022", "6/21/2022", "7/18/2022", "8/8/2022"], "range": ["#7030A0", "#0070C0", "#00B050", "#FFC000"]},
      "legend": {"orient": "none", "legendX": 87, "legendY": 542, "title": null, "padding": 0, "symbolType": "stroke", "symbolSize": 2809, "symbolStrokeWidth": 3.5, "labelFontSize": 21, "labelFont": "Lato", "labelColor": "#595959", "labelOffset": 2, "rowPadding": 27, "labelLimit": 300}},
    "order": {"field": "depth", "type": "quantitative"}
  }},
 {"width": 275, "height": 780,
  "data": {"name": "prof"},
  "transform": [{"filter": "datum.param === 'DO'"}],
  "title": {"text": " ", "subtitle": "B", "anchor": "start", "frame": "group", "dx": -27, "fontSize": 10, "subtitleFontSize": 25, "subtitleFontWeight": "bold", "subtitleColor": "black", "subtitleFont": "Lato", "subtitlePadding": 2, "offset": -3},
  "mark": {"type": "line"},
  "encoding": {
    "x": {"field": "value", "type": "quantitative", "scale": {"domain": [0, 15], "nice": false}, "axis": {"orient": "top", "title": "Dissolved oxygen (mg/L)", "values": [0, 5, 10, 15]}},
    "y": {"field": "depth", "type": "quantitative", "scale": {"domain": [0, 12], "reverse": true, "nice": false}, "axis": {"title": "Depth (m)", "values": [0, 2, 4, 6, 8, 10, 12], "titlePadding": 1.3}},
    "color": {"field": "date", "type": "nominal", "scale": {"domain": ["5/31/2022", "6/21/2022", "7/18/2022", "8/8/2022"], "range": ["#7030A0", "#0070C0", "#00B050", "#FFC000"]}, "legend": null},
    "order": {"field": "depth", "type": "quantitative"}
  }}
 ]},
{"spacing": 15,
 "resolve": {"scale": {"color": "independent"}, "legend": {"color": "independent"}},
 "hconcat": [
 {"width": 261, "height": 780,
  "data": {"name": "prof"},
  "transform": [{"filter": "datum.param === 'Chl'"}],
  "title": {"text": " ", "subtitle": "C", "anchor": "start", "frame": "group", "dx": -33, "fontSize": 10, "subtitleFontSize": 25, "subtitleFontWeight": "bold", "subtitleColor": "black", "subtitleFont": "Lato", "subtitlePadding": 2, "offset": -3},
  "mark": {"type": "line"},
  "encoding": {
    "x": {"field": "value", "type": "quantitative", "scale": {"domain": [0, 12], "nice": false}, "axis": {"orient": "top", "title": "Chlorophyll (ug/L)", "values": [0, 2, 4, 6, 8, 10, 12]}},
    "y": {"field": "depth", "type": "quantitative", "scale": {"domain": [0, 12], "reverse": true, "nice": false}, "axis": {"title": "Depth (m)", "values": [0, 2, 4, 6, 8, 10, 12], "titlePadding": 10.7}},
    "color": {"field": "date", "type": "nominal", "scale": {"domain": ["5/31/2022", "6/21/2022", "7/18/2022", "8/8/2022"], "range": ["#7030A0", "#0070C0", "#00B050", "#FFC000"]}, "legend": null},
    "order": {"field": "depth", "type": "quantitative"}
  }},
 {"width": 271, "height": 780,
  "data": {"name": "prof"},
  "transform": [{"filter": "datum.param === 'Turb'"}],
  "title": {"text": " ", "subtitle": "D", "anchor": "start", "frame": "group", "dx": -52, "fontSize": 10, "subtitleFontSize": 25, "subtitleFontWeight": "bold", "subtitleColor": "black", "subtitleFont": "Lato", "subtitlePadding": 2, "offset": -3},
  "mark": {"type": "line"},
  "encoding": {
    "x": {"field": "value", "type": "quantitative", "scale": {"domain": [0, 10], "nice": false}, "axis": {"orient": "top", "title": "Turbidity (FNU)", "values": [0, 5, 10]}},
    "y": {"field": "depth", "type": "quantitative", "scale": {"domain": [0, 12], "reverse": true, "nice": false}, "axis": {"title": "Depth (m)", "values": [0, 2, 4, 6, 8, 10, 12], "titlePadding": 3.4}},
    "color": {"field": "date", "type": "nominal", "scale": {"domain": ["5/31/2022", "6/21/2022", "7/18/2022", "8/8/2022"], "range": ["#7030A0", "#0070C0", "#00B050", "#FFC000"]}, "legend": null},
    "order": {"field": "depth", "type": "quantitative"}
  }}
 ]}
]
}
